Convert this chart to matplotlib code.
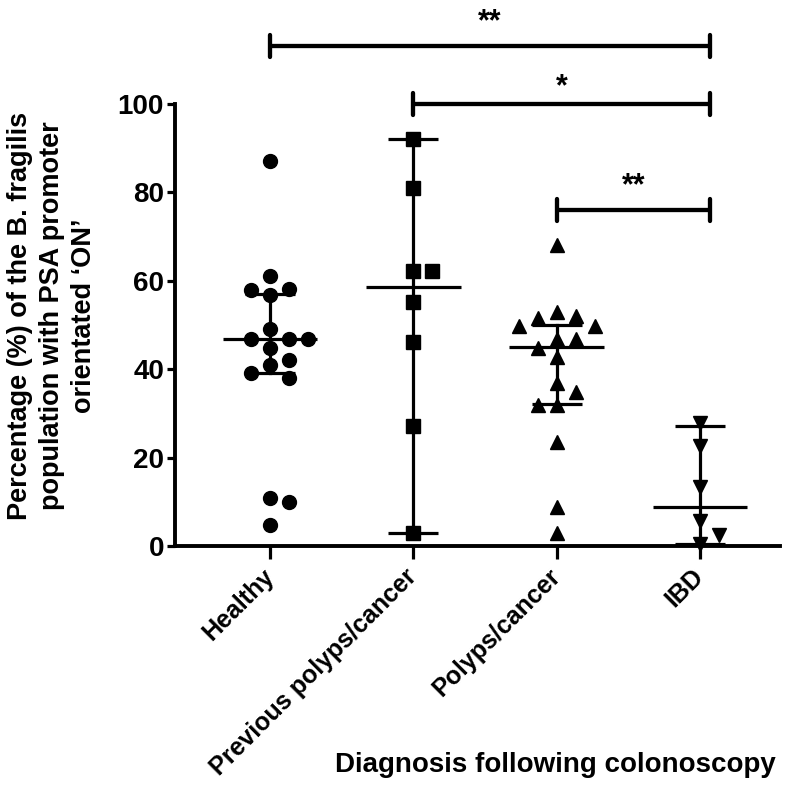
import numpy as np
import matplotlib
matplotlib.use("Agg")
import matplotlib.pyplot as plt

plt.rcParams['font.family'] = ['Liberation Sans', 'DejaVu Sans']
plt.rcParams['font.weight'] = 'bold'

categories = ["Healthy", "Previous polyps/cancer", "Polyps/cancer", "IBD"]

healthy = [87, 61.2, 58.2, 58.0, 56.9, 49.1, 46.9, 46.9, 46.9, 44.8, 42.2, 41.1,
           39.2, 38.0, 10.9, 10.1, 4.9]
previous = [92.1, 81.0, 62.2, 62.2, 55.2, 46.1, 27.1, 3.1]
polyps = [68.0, 52.9, 52.0, 51.6, 49.9, 49.9, 46.9, 46.9, 44.8, 42.9, 36.9, 34.8,
          32.0, 32.0, 23.7, 9.0, 3.0]
ibd = [27.9, 22.6, 13.5, 5.8, 2.6, 0.6]

groups = [healthy, previous, polyps, ibd]
markers = ['o', 's', '^', 'v']

medians = [46.9, 58.6, 45.1, 9.0]
lower = [39.2, 3.1, 32.2, 0.6]
upper = [57.0, 92.1, 50.1, 27.1]

# comparisons: (group i, group j, bracket height, label)
comparisons = [(0, 3, 113.1, "**"), (1, 3, 100.0, "*"), (2, 3, 76.0, "**")]

yticks = [0, 20, 40, 60, 80, 100]

fig = plt.figure(figsize=(8.0, 7.93), dpi=100)
ax = fig.add_axes([0.219, 0.311, 0.756, 0.558])
ax.set_xlim(-0.663, 3.56)
ax.set_ylim(0, 100)

LW = 2.3
p0 = ax.transData.transform((0, 0))
p1 = ax.transData.transform((1, 1))
pxx = p1[0] - p0[0]
pxy = p1[1] - p0[1]

def swarm(vals, step_px=19.0, sep_px=16.0):
    order = np.argsort(-np.asarray(vals), kind='stable')
    placed = []
    offs = np.zeros(len(vals))
    cands = [0]
    for n in range(1, 10):
        cands += [n, -n]
    for idx in order:
        y = vals[idx] * pxy
        for c in cands:
            x = c * step_px
            if all((x - px) ** 2 + (y - py) ** 2 >= sep_px ** 2 for px, py in placed):
                placed.append((x, y))
                offs[idx] = x / pxx
                break
    return offs

for i, (vals, m) in enumerate(zip(groups, markers)):
    offs = swarm(vals)
    ax.plot(i + offs, vals, linestyle='none', marker=m, color='black',
            markersize=10 if m != 's' else 9.5, clip_on=False, zorder=3)
    ax.plot([i - 0.33, i + 0.33], [medians[i]] * 2, color='black', lw=LW,
            solid_capstyle='butt', zorder=4)
    ax.plot([i, i], [lower[i], upper[i]], color='black', lw=LW, zorder=4)
    for v in (lower[i], upper[i]):
        ax.plot([i - 0.175, i + 0.175], [v, v], color='black', lw=LW,
                solid_capstyle='butt', zorder=4)

for (a, b, h, lab) in comparisons:
    xa, xb = a, b + 0.07
    ax.plot([xa, xb], [h, h], color='black', lw=LW + 0.8, clip_on=False,
            solid_capstyle='butt')
    for xe in (xa, xb):
        ax.plot([xe, xe], [h - 2.5, h + 2.5], color='black', lw=LW + 0.8,
                clip_on=False, solid_capstyle='round')
    gap = 2.0 if len(lab) > 1 else 0.3
    ax.text((xa + xb) / 2, h + gap, lab, ha='center', va='bottom',
            fontsize=22, fontweight='bold', clip_on=False)

for s in ['top', 'right']:
    ax.spines[s].set_visible(False)
for s in ['left', 'bottom']:
    ax.spines[s].set_linewidth(LW + 0.5)

ax.set_yticks(yticks)
ax.set_yticklabels([str(t) for t in yticks], fontsize=20, fontweight='bold')
ax.tick_params(axis='y', length=6, width=LW, pad=2)
ax.set_xticks(range(len(categories)))
ax.set_xticklabels(categories, rotation=45, ha='right', va='center',
                   rotation_mode='anchor', fontsize=18, fontweight='bold')
ax.tick_params(axis='x', length=9, width=LW, pad=10)

fig.text(52 / 800, 1 - 316 / 793,
         "Percentage (%) of the B. fragilis\npopulation with PSA promoter\norientated \u2018ON\u2019",
         rotation=90, ha='center', va='center', multialignment='center',
         fontsize=19.5, fontweight='bold', linespacing=1.3)
fig.text(555 / 800, 1 - 765 / 793, "Diagnosis following colonoscopy",
         ha='center', va='center', fontsize=20, fontweight='bold')

fig.savefig("out.png", dpi=100)
